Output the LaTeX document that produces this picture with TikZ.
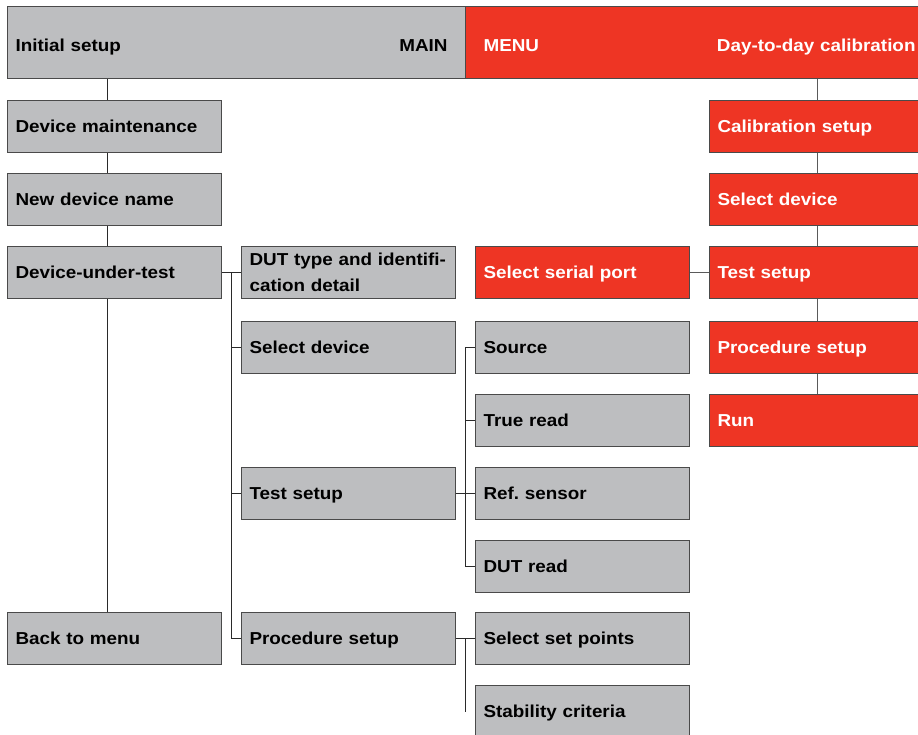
\documentclass[tikz,border=0pt]{standalone}
\usepackage{fontspec}
\setmainfont{Liberation Sans}[FakeStretch=1.09]
\frenchspacing
\definecolor{boxgray}{HTML}{BDBEC0}
\definecolor{mred}{HTML}{EE3524}
\definecolor{edge}{HTML}{4A4A4A}
\definecolor{lineg}{HTML}{2A2A2A}
\definecolor{lineredcol}{HTML}{5A5A5A}
\begin{document}
\begin{tikzpicture}[x=1pt,y=-1pt,
  box/.style={draw=edge, line width=1.1pt, fill=boxgray,
    font=\bfseries\fontsize{17.3}{26}\selectfont,
    text width=#1, align=left, inner xsep=8pt, inner ysep=0pt,
    text depth=0pt,
    minimum height=52pt, anchor=north west},
  box/.default=198pt,
  redbox/.style={box=#1, fill=mred, text=white},
  redbox/.default=198pt,
  conn/.style={draw=lineg, line width=1pt},
  connr/.style={draw=lineredcol, line width=1pt}]
\useasboundingbox (0,0) rectangle (918,735);
\clip (0,0) rectangle (918,735);
% top bar
\node[box=442pt, minimum height=72pt, text height=17pt] (main) at (7,6) {Initial setup\hfill MAIN\kern10pt};
\node[redbox=459pt, minimum height=72pt, text height=17pt] (menu) at (465,6) {\kern10pt MENU\hfill Day-to-day calibration\kern17pt};
% column 1
\node[box] (dm) at (7,100) {Device maintenance};
\node[box] (nd) at (7,173) {New device name};
\node[box] (dut) at (7,246) {Device-under-test};
\node[box] (back) at (7,612) {Back to menu};
% column 2
\node[box, text depth={}] (dutt) at (241,246) {DUT type and identifi-\\cation detail};
\node[box] (sd) at (241,321) {Select device};
\node[box] (ts) at (241,467) {Test setup};
\node[box] (ps) at (241,612) {Procedure setup};
% column 3
\node[redbox] (ssp) at (475,246) {Select serial port};
\node[box] (src) at (475,321) {Source};
\node[box] (tr) at (475,394) {True read};
\node[box] (ref) at (475,467) {Ref. sensor};
\node[box] (dr) at (475,540) {DUT read};
\node[box] (sset) at (475,612) {Select set points};
\node[box] (stab) at (475,685) {Stability criteria};
% column 4
\node[redbox=230pt] (cs) at (709,100) {Calibration setup};
\node[redbox=230pt] (sdr) at (709,173) {Select device};
\node[redbox=230pt] (tsr) at (709,246) {Test setup};
\node[redbox=230pt] (psr) at (709,321) {Procedure setup};
\node[redbox=230pt] (run) at (709,394) {Run};
% bus coordinates
\coordinate (b1) at (231,0);
\coordinate (b2) at (465,0);
% column 1 trunk
\draw[conn] ([xshift=100pt]main.south west) -- ([xshift=100pt]dm.north west);
\draw[conn] ([xshift=100pt]dm.south west) -- ([xshift=100pt]nd.north west);
\draw[conn] ([xshift=100pt]nd.south west) -- ([xshift=100pt]dut.north west);
\draw[conn] ([xshift=100pt]dut.south west) -- ([xshift=100pt]back.north west);
% column 2 bus
\draw[conn] (dut.east) -- (dutt.west);
\draw[conn] (b1 |- dut.east) -- (b1 |- ps.west) -- (ps.west);
\draw[conn] (b1 |- sd.west) -- (sd.west);
\draw[conn] (b1 |- ts.west) -- (ts.west);
% column 3 bus
\draw[conn] (ts.east) -- (ref.west);
\draw[conn] (b2 |- src.west) -- (src.west);
\draw[conn] (b2 |- src.west) -- (b2 |- dr.west) -- (dr.west);
\draw[conn] (b2 |- tr.west) -- (tr.west);
\draw[conn] (ps.east) -- (sset.west);
\draw[conn] (b2 |- sset.west) -- (b2 |- stab.west);
% red column
\draw[connr] (ssp.east) -- (tsr.west);
\draw[connr] ([xshift=352pt]menu.south west) -- ([xshift=108pt]cs.north west);
\draw[connr] ([xshift=108pt]cs.south west) -- ([xshift=108pt]sdr.north west);
\draw[connr] ([xshift=108pt]sdr.south west) -- ([xshift=108pt]tsr.north west);
\draw[connr] ([xshift=108pt]tsr.south west) -- ([xshift=108pt]psr.north west);
\draw[connr] ([xshift=108pt]psr.south west) -- ([xshift=108pt]run.north west);
\end{tikzpicture}
\end{document}
